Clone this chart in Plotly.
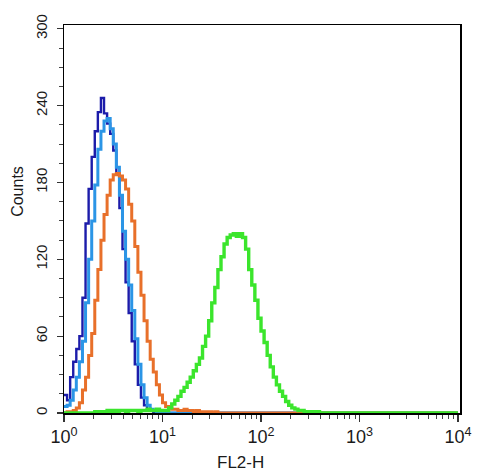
import plotly.graph_objects as go

# Histogram channels: 32 channels per decade on the FL2-H log scale (10^0 .. 10^4)
CH_PER_DECADE = 32
N_CH = 128

dark_blue = [14, 10, 28, 40, 50, 60, 90, 148, 175, 200, 220, 235, 246, 234, 226, 218,
             205, 186, 160, 128, 102, 78, 56, 38, 22, 12, 6, 3, 2, 1, 1, 0]
light_blue = [5, 6, 10, 18, 28, 40, 56, 86, 120, 150, 178, 206, 220, 228, 230, 222,
              210, 192, 170, 142, 120, 100, 80, 58, 38, 22, 12, 6, 3, 2, 1, 1]
orange = [0, 1, 1, 2, 4, 8, 18, 28, 45, 62, 88, 112, 135, 155, 170, 182,
          186, 187, 185, 182, 175, 163, 150, 130, 110, 92, 72, 56, 42, 32, 22, 14,
          8, 5, 4, 3, 3, 2, 2, 3, 2, 2, 1, 2, 1, 1, 1, 1, 0, 1]
green = ([0] * 10 +
         [1, 0, 1, 1, 2, 1, 2, 1, 2, 2, 1, 2, 2, 2, 1, 2, 2, 3, 2, 2, 3, 2, 2] +
         [2, 4, 7, 10, 13, 17, 20, 24, 28, 33, 38, 43, 52, 60, 72, 86, 98, 112, 122, 132,
          137, 139, 140, 138, 140, 137, 128, 112, 100, 88, 74, 64, 55, 45, 36, 28, 22, 17, 13, 9,
          6, 4, 3, 2, 2, 1, 1, 1, 1, 1])

x_ticks = [1, 10, 100, 1000, 10000]
x_labels = ["10<sup>0</sup>", "10<sup>1</sup>", "10<sup>2</sup>", "10<sup>3</sup>", "10<sup>4</sup>"]
x_minor = [m * 10 ** d for d in range(4) for m in range(2, 10)]
y_ticks = [0, 60, 120, 180, 240, 300]

series = [
    (dark_blue, "#1c1caa", 2.4),
    (light_blue, "#2b95e6", 3.0),
    (orange, "#e8702a", 3.0),
    (green, "#3be52c", 3.4),
]

fig = go.Figure()
edges = [10 ** (i / CH_PER_DECADE) for i in range(N_CH + 1)]
for vals, color, width in series:
    v = list(vals) + [0] * (N_CH - len(vals))
    fig.add_trace(go.Scatter(
        x=edges, y=v + [v[-1]], mode="lines",
        line=dict(color=color, width=width, shape="hv"),
        showlegend=False, hoverinfo="skip"))

font = dict(family="Liberation Sans, Arial, sans-serif", color="#1a1a1a")
fig.update_layout(
    width=490, height=473,
    margin=dict(l=64, r=30, t=25, b=60),
    paper_bgcolor="white", plot_bgcolor="white",
    font=font,
    xaxis=dict(
        type="log", range=[0, 4.02], automargin=False,
        showgrid=False, zeroline=False,
        showline=True, linecolor="black", linewidth=1.5, mirror=True,
        ticks="outside", ticklen=7, tickwidth=1.3, tickcolor="#333",
        tickmode="array", tickvals=x_ticks, ticktext=x_labels,
        tickfont=dict(size=18),
        minor=dict(tickmode="array", tickvals=x_minor, ticks="outside",
                   ticklen=4, tickwidth=1, tickcolor="#444"),
        layer="below traces",
    ),
    yaxis=dict(
        range=[0, 303], automargin=False,
        showgrid=False, zeroline=False,
        showline=True, linecolor="black", linewidth=1.5, mirror=True,
        ticks="outside", ticklen=6, tickwidth=1.3, tickcolor="#333",
        tickmode="array", tickvals=y_ticks, tickangle=-90,
        ticklabelstandoff=4,
        tickfont=dict(size=15),
        minor=dict(dtick=15, ticks="outside", ticklen=4, tickwidth=1, tickcolor="#444"),
        layer="below traces",
    ),
    annotations=[
        dict(text="FL2-H", xref="paper", yref="paper", x=0.445, y=0,
             yshift=-49, showarrow=False, font=dict(size=17),
             xanchor="center", yanchor="middle"),
        dict(text="Counts", xref="paper", yref="paper", x=0, y=0.57,
             xshift=-46, showarrow=False, textangle=-90, font=dict(size=16),
             xanchor="center", yanchor="middle"),
    ],
)

fig.write_html("out.html", config={"displayModeBar": False, "staticPlot": True},
               post_script="document.body.style.margin='0';document.body.style.overflow='hidden';")
